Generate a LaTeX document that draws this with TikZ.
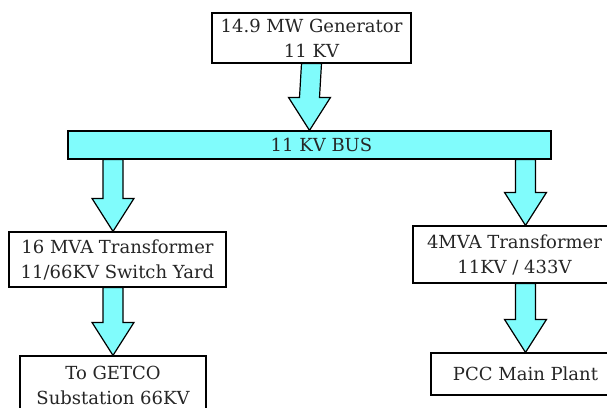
\documentclass[tikz,border=0pt]{standalone}
\usepackage{fontspec}
\setmainfont{DejaVu Serif}
\usepackage{tikz}
\usetikzlibrary{calc}
\definecolor{buscyan}{RGB}{128,252,252}

\begin{document}
\begin{tikzpicture}[
  x=1pt, y=1pt,
  font=\fontsize{18}{25}\selectfont,
  box/.style={draw, line width=1.2pt, align=center, fill=white, inner sep=0pt, text=black!85, minimum width=#1},
  box/.default=200pt,
  busbar/.style={box=#1, fill=buscyan},
  fat/.style={draw, fill=buscyan, line width=1.2pt, line join=miter,
    to path={($(\tikztostart)+(-10,0)$) -- ($(\tikztostart)+(10,0)$)
      -- ($(\tikztotarget)+(10,33)$) -- ($(\tikztotarget)+(21,33)$)
      -- (\tikztotarget) -- ($(\tikztotarget)+(-21,33)$)
      -- ($(\tikztotarget)+(-10,33)$) -- cycle}},
]
\useasboundingbox (0,0) rectangle (607,-407);
% source and bus
\node[box=199pt, minimum height=50pt] (gen) at (311.5,-38) {14.9 MW Generator\\11 KV};
\node[busbar=483pt, minimum height=28pt] (bus) at (309.5,-145) {\hspace*{24pt}11 KV BUS};
% left branch
\node[box=217pt, minimum height=55pt] (t16) at (117.5,-259.5) {16 MVA Transformer\\11/66KV Switch Yard};
\node[box=186pt, minimum height=58pt] (getco) at (113,-385) {To GETCO\\Substation 66KV};
% right branch
\node[box=203pt, minimum height=57pt] (t4) at (514.5,-254.5) {4MVA Transformer\\11KV / 433V};
\node[box=189pt, minimum height=42pt] (pcc) at (525.5,-374) {PCC Main Plant};
% flow arrows
\draw[fat] (gen.south) to (bus.north);
\draw[fat] (bus.south -| getco.north) to (t16.north -| getco.north);
\draw[fat] (t16.south -| getco.north) to (getco.north);
\draw[fat] (bus.south -| pcc.north) to (t4.north -| pcc.north);
\draw[fat] (t4.south -| pcc.north) to (pcc.north);
\end{tikzpicture}
\end{document}
